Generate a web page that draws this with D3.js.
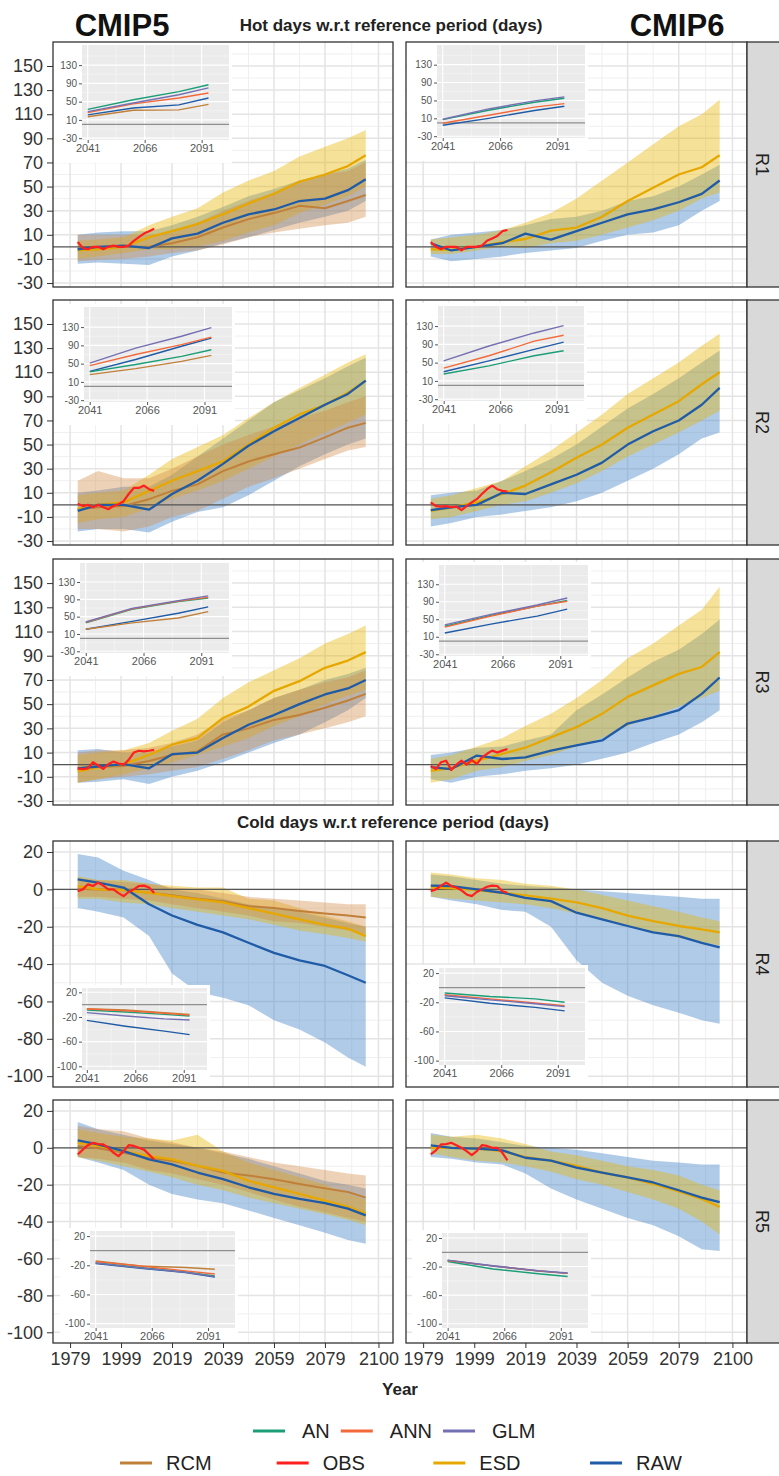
<!DOCTYPE html>
<html>
<head>
<meta charset="UTF-8">
<script src="https://d3js.org/d3.v7.min.js"></script>
<style>
  body { margin: 0; background: #fff; }
  svg text { font-family: "Liberation Sans", Arial, Helvetica, sans-serif; }
</style>
</head>
<body>
<svg id="chart" width="779" height="1476"></svg>
<script>
// ---------------- data ----------------
var YEARS = [1982, 1990, 2000, 2010, 2019, 2029, 2039, 2049, 2059, 2069, 2079, 2088, 2095];
var OBS_YEARS = [1982, 1984, 1986, 1988, 1990, 1992, 1994, 1996, 1998, 2000, 2002, 2004, 2006, 2008, 2010, 2012];
var INSET_YEARS = [2041, 2061, 2081, 2094];

var X_TICKS = [1979, 1999, 2019, 2039, 2059, 2079, 2100];
var HOT_TICKS = [-30, -10, 10, 30, 50, 70, 90, 110, 130, 150];
var COLD_TICKS = [-100, -80, -60, -40, -20, 0, 20];
var INSET_X_TICKS = [2041, 2066, 2091];
var INSET_HOT_TICKS = [-30, 10, 50, 90, 130];
var INSET_COLD_TICKS = [-100, -60, -20, 20];
var ROW_LABELS = ["R1", "R2", "R3", "R4", "R5"];
var LEGEND_ROW1 = ["AN", "ANN", "GLM"];
var LEGEND_ROW2 = ["RCM", "OBS", "ESD", "RAW"];

// CMIP5 R1
var c5r1_raw   = [-2, 0, 1, -1, 7, 11, 20, 27, 31, 38, 40, 47, 56];
var c5r1_rawLo = [-14, -13, -14, -15, -8, -3, 3, 8, 14, 20, 25, 30, 38];
var c5r1_rawHi = [10, 12, 13, 13, 18, 25, 33, 42, 48, 55, 60, 65, 72];
var c5r1_esd   = [-3, -2, 0, 8, 13, 19, 27, 36, 44, 54, 60, 67, 76];
var c5r1_esdLo = [-10, -8, -5, -2, -2, 0, 5, 12, 18, 28, 35, 42, 50];
var c5r1_esdHi = [5, 6, 8, 18, 25, 32, 45, 55, 63, 75, 83, 90, 97];
var c5r1_rcm   = [-2, -1, 0, 0, 3, 8, 16, 23, 28, 34, 32, 38, 43];
var c5r1_rcmLo = [-12, -11, -10, -8, -5, -3, 2, 8, 12, 15, 18, 20, 25];
var c5r1_rcmHi = [10, 10, 10, 10, 12, 20, 30, 38, 45, 55, 60, 63, 70];
var c5r1_obs   = [4, -1, -2, 0, 0, -2, 0, 1, 0, 0, 1, 5, 8, 11, 13, 15];
var c5r1_inAN  = [33, 54, 72, 87];
var c5r1_inANN = [26, 45, 58, 69];
var c5r1_inGLM = [28, 47, 65, 80];
var c5r1_inRCM = [17, 31, 32, 44];
var c5r1_inRAW = [21, 36, 43, 58];

// CMIP6 R1
var c6r1_raw   = [3, -3, 0, 3, 11, 6, 13, 20, 27, 31, 37, 44, 55];
var c6r1_rawLo = [-8, -12, -10, -8, -5, -3, -1, 5, 10, 12, 18, 30, 38];
var c6r1_rawHi = [6, 10, 12, 14, 18, 23, 25, 30, 38, 42, 50, 60, 68];
var c6r1_esd   = [-2, -2.5, 0, 4, 6.5, 13.5, 16, 25, 38, 49, 60, 66, 76];
var c6r1_esdLo = [-6, -6, -3, 0, -1, 3, 5, 10, 16, 22, 30, 40, 45];
var c6r1_esdHi = [6, 8, 10, 14, 20, 28, 40, 55, 70, 85, 100, 110, 122];
var c6r1_obs   = [4, 0, -2, 0, 0, 0, -3, 0, 0, 0, 1, 5, 7, 9, 13, 14];
var c6r1_inAN  = [7, 28, 46, 55];
var c6r1_inANN = [-1, 17, 35, 43];
var c6r1_inGLM = [8, 31, 49, 58];
var c6r1_inRAW = [-5.5, 10, 27.6, 37];

// CMIP5 R2
var c5r2_raw   = [-5, 0, 0, -4, 9, 20, 34, 49, 61, 72, 83, 92, 103];
var c5r2_rawLo = [-22, -20, -20, -23, -14, -6, -2, 8, 20, 32, 42, 50, 55];
var c5r2_rawHi = [10, 12, 15, 15, 25, 40, 55, 70, 85, 95, 105, 115, 122];
var c5r2_esd   = [-3.6, 0, 2, 11.6, 20, 28, 36, 50, 64, 75, 83, 93, 103];
var c5r2_esdLo = [-15, -12, -10, -3, 5, 12, 20, 30, 40, 50, 60, 68, 75];
var c5r2_esdHi = [8, 10, 12, 25, 38, 48, 58, 72, 85, 97, 108, 118, 125];
var c5r2_rcm   = [-3.6, -2, -1, 4.7, 11.6, 17, 28, 36, 42, 47.5, 56, 64, 68];
var c5r2_rcmLo = [-20, -20, -22, -18, -10, -5, 5, 15, 22, 30, 38, 45, 48];
var c5r2_rcmHi = [20, 28, 22, 22, 30, 40, 50, 58, 65, 72, 78, 85, 90];
var c5r2_obs   = [1, -1, 0, -2, 0, -2, -3.6, -1, 0.5, 3, 9, 14, 14, 16, 13, 11.6];
var c5r2_inAN  = [32, 48, 66, 80.5];
var c5r2_inANN = [45.6, 70, 91.5, 108];
var c5r2_inGLM = [51, 84, 110, 129];
var c5r2_inRCM = [26, 39, 55, 68];
var c5r2_inRAW = [33, 59, 88, 106];

// CMIP6 R2
var c6r2_raw   = [-4.4, -2, 0, 10, 9, 17, 25, 35, 50, 61, 70, 83, 97];
var c6r2_rawLo = [-18, -15, -10, -8, -5, -2, 3, 10, 20, 30, 42, 55, 60];
var c6r2_rawHi = [8, 10, 12, 20, 28, 38, 50, 65, 80, 92, 105, 118, 128];
var c6r2_esd   = [-5, -2, 2, 9, 16, 27, 39, 50, 64, 75, 86, 100, 110];
var c6r2_esdLo = [-12, -10, -5, 0, 3, 10, 18, 28, 40, 50, 60, 70, 78];
var c6r2_esdHi = [5, 8, 14, 20, 32, 45, 60, 75, 92, 105, 118, 132, 142];
var c6r2_obs   = [2, -1, -1.4, -1, -2, -1.5, -4.4, -1, 2, 4.7, 9, 13, 16, 13, 11.6, 11];
var c6r2_inAN  = [25, 43, 65, 76];
var c6r2_inANN = [38, 65, 97, 110];
var c6r2_inGLM = [54, 86.5, 115, 131];
var c6r2_inRAW = [30, 54, 79, 95];

// CMIP5 R3
var c5r3_raw   = [-3, -1.5, 0.4, -3, 8.7, 10, 22, 33, 41, 50, 58, 63, 70];
var c5r3_rawLo = [-15, -14, -12, -16, -10, -5, 2, 10, 18, 25, 35, 45, 55];
var c5r3_rawHi = [12, 13, 10, 10, 15, 20, 35, 45, 55, 62, 70, 75, 80];
var c5r3_esd   = [-5.6, -2.3, 0.4, 8, 16.5, 22, 38.6, 48, 61, 69, 80, 86, 93];
var c5r3_esdLo = [-15, -12, -8, -3, 2, 8, 15, 22, 32, 40, 50, 57, 62];
var c5r3_esdHi = [8, 10, 12, 18, 28, 38, 55, 68, 78, 88, 100, 108, 115];
var c5r3_rcm   = [-3, -2, -1, 3, 8, 11, 25, 30, 37, 41, 47, 53, 58.5];
var c5r3_rcmLo = [-15, -12, -10, -8, -5, -2, 5, 12, 20, 25, 30, 35, 40];
var c5r3_rcmHi = [10, 12, 12, 14, 18, 25, 38, 45, 55, 62, 68, 72, 78];
var c5r3_obs   = [-3, -3.7, -3, 2, -0.7, -3.5, 0.4, 2.6, 1, 0, 4, 10, 11.5, 11, 11.5, 12.3];
var c5r3_inAN  = [36, 67, 85, 93];
var c5r3_inANN = [37, 68, 86, 94.5];
var c5r3_inGLM = [38, 69, 87, 98];
var c5r3_inRCM = [21, 35.7, 47, 61.5];
var c5r3_inRAW = [21, 39, 58, 72.5];

// CMIP6 R3
var c6r3_raw   = [-2, -3.6, 7.5, 4.7, 6, 11.6, 16, 20, 34, 39, 45, 58.5, 72];
var c6r3_rawLo = [-12, -15, -10, -8, -5, -3, 0, 5, 10, 18, 25, 35, 45];
var c6r3_rawHi = [8, 10, 14, 15, 20, 25, 45, 58, 72, 85, 95, 108, 120];
var c6r3_esd   = [-5, -2.8, 3.3, 9, 14, 22.6, 31, 42, 56, 65.5, 75, 80.7, 93];
var c6r3_esdLo = [-15, -12, -5, -2, 3, 8, 15, 22, 32, 40, 48, 55, 61];
var c6r3_esdHi = [5, 8, 15, 22, 32, 42, 55, 70, 88, 100, 115, 128, 147];
var c6r3_obs   = [-1, -3.6, 2, 3.3, -4.4, 0, 3.3, 0, 4, 0.5, 6, 9, 11.6, 10, 11.6, 13];
var c6r3_inAN  = [34, 59, 80, 93];
var c6r3_inANN = [32, 57, 80, 91];
var c6r3_inGLM = [37, 61, 82.6, 98.5];
var c6r3_inRAW = [18.7, 39, 57, 73];

// CMIP5 R4
var c5r4_raw   = [5.4, 3.6, 1, -8, -14, -19, -23, -28.6, -34, -38, -41, -46, -50];
var c5r4_rawLo = [-10, -12, -15, -25, -45, -55, -58, -62, -70, -75, -82, -90, -95];
var c5r4_rawHi = [19, 17, 10, 5, 0, -2, -5, -8, -10, -12, -15, -18, -20];
var c5r4_esd   = [1.8, 0, -0.4, -1.8, -3.6, -5.4, -7, -10, -13, -16, -19, -21, -25];
var c5r4_esdLo = [-5, -5, -7, -8, -10, -12, -14, -16, -19, -22, -24, -26, -28];
var c5r4_esdHi = [7, 5, 5, 3, 2, 1, 1, -5, -6, -10, -14, -17, -20];
var c5r4_rcm   = [0.3, 0, -0.4, -1.8, -3.2, -5, -6.3, -9, -10, -11.6, -12.9, -14, -15];
var c5r4_rcmLo = [-4, -4, -5, -6, -8, -10, -12, -14, -17, -18, -20, -22, -24];
var c5r4_rcmHi = [6, 5, 4, 3, 1, 0, -2, -4, -5, -6, -7, -8, -8];
var c5r4_obs   = [-1, 0, 2.7, 1.8, 3.6, 2, 0, 0, -2, -3.6, -1.4, 0, 1.8, 2, 1, -2];
var c5r4_inAN  = [-8.6, -12, -15.7, -18.5];
var c5r4_inANN = [-7, -10, -14, -17];
var c5r4_inGLM = [-13, -18.5, -23, -25];
var c5r4_inRCM = [-6.4, -8.6, -13, -15.7];
var c5r4_inRAW = [-25.6, -35, -43, -48.7];

// CMIP6 R4
var c6r4_raw   = [2, 1.8, 0, -1.8, -4.5, -6.3, -12.5, -16, -19.6, -23, -25, -28.6, -31];
var c6r4_rawLo = [-4, -6, -8, -11, -12, -20, -38, -50, -57, -62, -66, -70, -72];
var c6r4_rawHi = [8, 7, 5, 3, 2, 1, 0, -1, -2, -3, -4, -5, -5];
var c6r4_esd   = [1, 0.5, -0.4, -1.8, -3.2, -5, -7, -10, -14, -17, -19.6, -21.4, -23];
var c6r4_esdLo = [-4, -5, -6, -7, -8, -10, -13, -16, -20, -23, -26, -28, -30];
var c6r4_esdHi = [9, 8, 6, 5, 3, 2, 0, -3, -6, -9, -12, -15, -17];
var c6r4_obs   = [-1, 0, 2, 3.6, 1.8, 1, -0.5, -2.7, -3.6, -1.4, 0, 1.4, 2, 1.8, -1, -1.8];
var c6r4_inAN  = [-7.3, -12, -15.3, -20];
var c6r4_inANN = [-9.6, -15.3, -21, -24.7];
var c6r4_inGLM = [-11, -16.7, -22, -26];
var c6r4_inRAW = [-14, -21.4, -27, -31.8];

// CMIP5 R5
var c5r5_raw   = [4, 1.8, -1.8, -6.3, -9, -13.4, -17, -21.4, -25, -27.7, -30, -33, -36.6];
var c5r5_rawLo = [-5, -8, -12, -20, -25, -28, -30, -34, -38, -42, -46, -50, -52];
var c5r5_rawHi = [14, 10, 7, 4, 2, 0, -3, -6, -10, -14, -18, -20, -22];
var c5r5_esd   = [2.7, 1, -1.8, -4.5, -6.3, -9.8, -12.5, -17.9, -21.4, -25, -28.6, -32, -35.7];
var c5r5_esdLo = [-5, -7, -10, -13, -16, -20, -23, -27, -30, -33, -36, -39, -42];
var c5r5_esdHi = [10, 8, 6, 5, 4, 7, -2, -8, -12, -16, -20, -25, -28];
var c5r5_rcm   = [1, -0.3, -2.7, -5.4, -7, -9.8, -13.4, -15, -17, -19.6, -22, -24, -27];
var c5r5_rcmLo = [-5, -6, -8, -12, -14, -17, -20, -24, -28, -32, -35, -38, -40];
var c5r5_rcmHi = [12, 10, 9, 5, 3, 0, -2, -5, -8, -10, -12, -14, -15];
var c5r5_obs   = [-3.6, -1, 1.4, 2.7, 2, 1.8, 0, -2.7, -4.5, -1.8, 1.4, 1, 0, -1, -3.6, -6.3];
var c5r5_inAN  = [-16.4, -23, -29, -34.5];
var c5r5_inANN = [-15, -21, -27.7, -32];
var c5r5_inGLM = [-17, -23.5, -29.5, -35.5];
var c5r5_inRCM = [-14, -21, -23, -25.5];
var c5r5_inRAW = [-17.7, -24, -30, -36];

// CMIP6 R5
var c6r5_raw   = [1.3, 0, -0.4, -1.4, -5.4, -7, -10.7, -13.4, -16, -18.8, -23, -27, -29.5];
var c6r5_rawLo = [-5, -6, -8, -9, -14, -22, -28, -33, -38, -42, -48, -55, -56];
var c6r5_rawHi = [8, 6, 5, 3, 1, 0, -1, -3, -5, -7, -8, -9, -9];
var c6r5_esd   = [0, 0, -0.4, -1.8, -5, -7, -9.8, -13.4, -16, -19.6, -23.6, -27.7, -32];
var c6r5_esdLo = [-3, -5, -7, -8, -10, -13, -17, -20, -24, -28, -33, -40, -47];
var c6r5_esdHi = [7, 6, 7, 5, 2, -2, -4, -7, -10, -12, -15, -20, -23];
var c6r5_obs   = [-3.6, -1.4, 1.8, 2, 2.7, 1.4, 0, -1.8, -4, -1.8, 1.4, 1, 0, 0, -2.7, -6.8];
var c6r5_inAN  = [-12.9, -23.4, -30, -34];
var c6r5_inANN = [-11.5, -19, -26, -29.5];
var c6r5_inGLM = [-11, -18.8, -25.7, -29];
var c6r5_inRAW = [-11.5, -19.3, -26.2, -29.5];

// ---------------- layout ----------------
var COLORS = {AN: "#1b9e77", ANN: "#f4693a", GLM: "#7570b3", RCM: "#c0803a",
              OBS: "#ff1f1f", ESD: "#e6a800", RAW: "#1f5ba6"};
var COL_X = [[53, 393], [406, 747]];
var ROW_TOP = [42, 300, 559, 841, 1100];
var ROW_H = [245, 245, 246, 246, 243];
// inset grey box (dx, dy, w, h) from panel corner
var INSET_BOX = [
  [[29, 3, 147, 95], [31, 3, 148, 93]],
  [[31, 7, 148, 95], [32, 6, 146, 95]],
  [[27, 4, 149, 90], [33, 6, 149, 91]],
  [[29, 147, 125, 82], [33, 127, 146, 97]],
  [[37, 131, 145, 97], [36, 133, 146, 95]]
];

function pack(raw, rawLo, rawHi, esd, esdLo, esdHi, rcm, rcmLo, rcmHi, obs, inset) {
  return {raw: raw, rawLo: rawLo, rawHi: rawHi, esd: esd, esdLo: esdLo, esdHi: esdHi,
          rcm: rcm, rcmLo: rcmLo, rcmHi: rcmHi, obs: obs, inset: inset};
}

var panels = [
  [pack(c5r1_raw, c5r1_rawLo, c5r1_rawHi, c5r1_esd, c5r1_esdLo, c5r1_esdHi, c5r1_rcm, c5r1_rcmLo, c5r1_rcmHi, c5r1_obs,
        {RAW: c5r1_inRAW, RCM: c5r1_inRCM, AN: c5r1_inAN, ANN: c5r1_inANN, GLM: c5r1_inGLM}),
   pack(c6r1_raw, c6r1_rawLo, c6r1_rawHi, c6r1_esd, c6r1_esdLo, c6r1_esdHi, null, null, null, c6r1_obs,
        {RAW: c6r1_inRAW, AN: c6r1_inAN, ANN: c6r1_inANN, GLM: c6r1_inGLM})],
  [pack(c5r2_raw, c5r2_rawLo, c5r2_rawHi, c5r2_esd, c5r2_esdLo, c5r2_esdHi, c5r2_rcm, c5r2_rcmLo, c5r2_rcmHi, c5r2_obs,
        {RAW: c5r2_inRAW, RCM: c5r2_inRCM, AN: c5r2_inAN, ANN: c5r2_inANN, GLM: c5r2_inGLM}),
   pack(c6r2_raw, c6r2_rawLo, c6r2_rawHi, c6r2_esd, c6r2_esdLo, c6r2_esdHi, null, null, null, c6r2_obs,
        {RAW: c6r2_inRAW, AN: c6r2_inAN, ANN: c6r2_inANN, GLM: c6r2_inGLM})],
  [pack(c5r3_raw, c5r3_rawLo, c5r3_rawHi, c5r3_esd, c5r3_esdLo, c5r3_esdHi, c5r3_rcm, c5r3_rcmLo, c5r3_rcmHi, c5r3_obs,
        {RAW: c5r3_inRAW, RCM: c5r3_inRCM, AN: c5r3_inAN, ANN: c5r3_inANN, GLM: c5r3_inGLM}),
   pack(c6r3_raw, c6r3_rawLo, c6r3_rawHi, c6r3_esd, c6r3_esdLo, c6r3_esdHi, null, null, null, c6r3_obs,
        {RAW: c6r3_inRAW, AN: c6r3_inAN, ANN: c6r3_inANN, GLM: c6r3_inGLM})],
  [pack(c5r4_raw, c5r4_rawLo, c5r4_rawHi, c5r4_esd, c5r4_esdLo, c5r4_esdHi, c5r4_rcm, c5r4_rcmLo, c5r4_rcmHi, c5r4_obs,
        {RAW: c5r4_inRAW, RCM: c5r4_inRCM, AN: c5r4_inAN, ANN: c5r4_inANN, GLM: c5r4_inGLM}),
   pack(c6r4_raw, c6r4_rawLo, c6r4_rawHi, c6r4_esd, c6r4_esdLo, c6r4_esdHi, null, null, null, c6r4_obs,
        {RAW: c6r4_inRAW, AN: c6r4_inAN, ANN: c6r4_inANN, GLM: c6r4_inGLM})],
  [pack(c5r5_raw, c5r5_rawLo, c5r5_rawHi, c5r5_esd, c5r5_esdLo, c5r5_esdHi, c5r5_rcm, c5r5_rcmLo, c5r5_rcmHi, c5r5_obs,
        {RAW: c5r5_inRAW, RCM: c5r5_inRCM, AN: c5r5_inAN, ANN: c5r5_inANN, GLM: c5r5_inGLM}),
   pack(c6r5_raw, c6r5_rawLo, c6r5_rawHi, c6r5_esd, c6r5_esdLo, c6r5_esdHi, null, null, null, c6r5_obs,
        {RAW: c6r5_inRAW, AN: c6r5_inAN, ANN: c6r5_inANN, GLM: c6r5_inGLM})]
];

var svg = d3.select("#chart");
var fmt = function(d) { return String(d); };

function styleAxis(g, size, color) {
  g.select(".domain").remove();
  g.selectAll(".tick line").attr("stroke", color).attr("stroke-width", 1);
  g.selectAll(".tick text").attr("fill", color).style("font-size", size + "px")
    .style("font-family", '"Liberation Sans", Arial, sans-serif');
}

// ---------------- titles ----------------
svg.append("text").attr("x", 122).attr("y", 36).attr("text-anchor", "middle")
  .style("font-size", "31px").style("font-weight", "bold").attr("fill", "#111").text("CMIP5");
svg.append("text").attr("x", 677).attr("y", 36).attr("text-anchor", "middle")
  .style("font-size", "31px").style("font-weight", "bold").attr("fill", "#111").text("CMIP6");
svg.append("text").attr("x", 391).attr("y", 31).attr("text-anchor", "middle")
  .style("font-size", "17px").style("font-weight", "bold").attr("fill", "#222")
  .text("Hot days w.r.t reference period (days)");
svg.append("text").attr("x", 393).attr("y", 828).attr("text-anchor", "middle")
  .style("font-size", "17px").style("font-weight", "bold").attr("fill", "#222")
  .text("Cold days w.r.t reference period (days)");

// ---------------- panels ----------------
panels.forEach(function(rowPanels, r) {
  var hot = r < 3;
  var top = ROW_TOP[r], h = ROW_H[r];

  rowPanels.forEach(function(p, c) {
    var x0 = COL_X[c][0], x1 = COL_X[c][1];
    var x = d3.scaleLinear().domain([1972.3, 2105.7]).range([x0, x1]);
    var y = d3.scaleLinear().domain(hot ? [-33.3, 169.9] : [-105.8, 25.9]).range([top + h, top]);
    var g = svg.append("g");
    var clipId = "clip-" + r + "-" + c;
    svg.append("clipPath").attr("id", clipId).append("rect")
      .attr("x", x0).attr("y", top).attr("width", x1 - x0).attr("height", h);
    var plot = g.append("g").attr("clip-path", "url(#" + clipId + ")");

    plot.append("rect").attr("x", x0).attr("y", top).attr("width", x1 - x0).attr("height", h).attr("fill", "#fff");

    // grid
    var majorY = hot ? HOT_TICKS : COLD_TICKS;
    var minorY = majorY.map(function(v) { return v + 10; }).concat([majorY[0] - 10]);
    var minorX = X_TICKS.slice(0, -1).map(function(v, i) { return (v + X_TICKS[i + 1]) / 2; }).concat([1969, 2110]);
    plot.selectAll(".gminy").data(minorY).enter().append("line")
      .attr("x1", x0).attr("x2", x1).attr("y1", y).attr("y2", y)
      .attr("stroke", "#f0f0f0").attr("stroke-width", 1);
    plot.selectAll(".gminx").data(minorX).enter().append("line")
      .attr("y1", top).attr("y2", top + h).attr("x1", x).attr("x2", x)
      .attr("stroke", "#f0f0f0").attr("stroke-width", 1);
    plot.selectAll(".gmaxy").data(majorY).enter().append("line")
      .attr("x1", x0).attr("x2", x1).attr("y1", y).attr("y2", y)
      .attr("stroke", "#e4e4e4").attr("stroke-width", 1.5);
    plot.selectAll(".gmaxx").data(X_TICKS).enter().append("line")
      .attr("y1", top).attr("y2", top + h).attr("x1", x).attr("x2", x)
      .attr("stroke", "#e4e4e4").attr("stroke-width", 1.5);

    // ribbons
    function band(lo, hi, fill, op) {
      var area = d3.area().x(function(d, i) { return x(YEARS[i]); })
        .y0(function(d, i) { return y(lo[i]); }).y1(function(d, i) { return y(hi[i]); });
      plot.append("path").datum(lo).attr("d", area).attr("fill", fill).attr("fill-opacity", op);
    }
    band(p.rawLo, p.rawHi, "#4f8ccc", 0.45);
    band(p.esdLo, p.esdHi, "#e8b400", 0.4);
    if (p.rcm) band(p.rcmLo, p.rcmHi, "#d08a45", 0.38);

    // zero line
    plot.append("line").attr("x1", x0).attr("x2", x1).attr("y1", y(0)).attr("y2", y(0))
      .attr("stroke", "#555").attr("stroke-width", 1.3);

    function series(vals, yrs, color, w) {
      var line = d3.line().x(function(d, i) { return x(yrs[i]); }).y(function(d) { return y(d); });
      plot.append("path").datum(vals).attr("d", line).attr("fill", "none")
        .attr("stroke", color).attr("stroke-width", w).attr("stroke-linejoin", "round");
    }
    if (p.rcm) series(p.rcm, YEARS, COLORS.RCM, 2);
    series(p.esd, YEARS, COLORS.ESD, 2.3);
    series(p.raw, YEARS, COLORS.RAW, 2.3);
    series(p.obs, OBS_YEARS, COLORS.OBS, 2.2);

    // inset
    var b = INSET_BOX[r][c];
    var gx = x0 + b[0], gy = top + b[1], gw = b[2], gh = b[3];
    var inset = plot.append("g");
    inset.append("rect").attr("x", gx - 30).attr("y", gy - 3).attr("width", gw + 33).attr("height", gh + 26)
      .attr("fill", "#fff");
    var ix = d3.scaleLinear().domain([2038.5, 2103]).range([gx, gx + gw]);
    var iy = d3.scaleLinear().domain(hot ? [-34, 174] : [-106, 27]).range([gy + gh, gy]);
    inset.append("rect").attr("x", gx).attr("y", gy).attr("width", gw).attr("height", gh).attr("fill", "#ebebeb");
    var iTicks = hot ? INSET_HOT_TICKS : INSET_COLD_TICKS;
    var iMinor = iTicks.map(function(v) { return v + 20; }).filter(function(v) { return v > iy.domain()[0] && v < iy.domain()[1]; });
    inset.selectAll(".imy").data(iMinor).enter().append("line")
      .attr("x1", gx).attr("x2", gx + gw).attr("y1", iy).attr("y2", iy).attr("stroke", "#f7f7f7").attr("stroke-width", 0.6);
    inset.selectAll(".imx").data([2053.5, 2078.5]).enter().append("line")
      .attr("y1", gy).attr("y2", gy + gh).attr("x1", ix).attr("x2", ix).attr("stroke", "#f7f7f7").attr("stroke-width", 0.6);
    inset.selectAll(".iMy").data(iTicks).enter().append("line")
      .attr("x1", gx).attr("x2", gx + gw).attr("y1", iy).attr("y2", iy).attr("stroke", "#fff").attr("stroke-width", 1.1);
    inset.selectAll(".iMx").data(INSET_X_TICKS).enter().append("line")
      .attr("y1", gy).attr("y2", gy + gh).attr("x1", ix).attr("x2", ix).attr("stroke", "#fff").attr("stroke-width", 1.1);
    inset.append("line").attr("x1", gx).attr("x2", gx + gw).attr("y1", iy(0)).attr("y2", iy(0))
      .attr("stroke", "#8f8f8f").attr("stroke-width", 1.3);
    ["RAW", "RCM", "AN", "ANN", "GLM"].forEach(function(k) {
      if (!p.inset[k]) return;
      var il = d3.line().x(function(d, i) { return ix(INSET_YEARS[i]); }).y(function(d) { return iy(d); });
      inset.append("path").datum(p.inset[k]).attr("d", il).attr("fill", "none")
        .attr("stroke", COLORS[k]).attr("stroke-width", 1.4);
    });
    var iya = inset.append("g").attr("transform", "translate(" + gx + ",0)")
      .call(d3.axisLeft(iy).tickValues(iTicks).tickSize(3).tickPadding(2).tickFormat(fmt));
    styleAxis(iya, 10, "#555");
    var ixa = inset.append("g").attr("transform", "translate(0," + (gy + gh) + ")")
      .call(d3.axisBottom(ix).tickValues(INSET_X_TICKS).tickSize(3).tickPadding(1).tickFormat(fmt));
    styleAxis(ixa, 11, "#555");

    // border
    g.append("rect").attr("x", x0).attr("y", top).attr("width", x1 - x0).attr("height", h)
      .attr("fill", "none").attr("stroke", "#333").attr("stroke-width", 1.3);

    // axes
    if (c === 0) {
      var ya = g.append("g").attr("transform", "translate(" + x0 + ",0)")
        .call(d3.axisLeft(y).tickValues(majorY).tickSize(6).tickPadding(4).tickFormat(fmt));
      styleAxis(ya, 18, "#333");
    }
    if (r === 4) {
      var xa = g.append("g").attr("transform", "translate(0," + (top + h) + ")")
        .call(d3.axisBottom(x).tickValues(X_TICKS).tickSize(5).tickPadding(4).tickFormat(fmt));
      styleAxis(xa, 18, "#333");
    }
  });

  // strip
  svg.append("rect").attr("x", 747).attr("y", top).attr("width", 40).attr("height", h)
    .attr("fill", "#d9d9d9").attr("stroke", "#333").attr("stroke-width", 1.3);
  svg.append("text").attr("transform", "translate(756," + (top + h / 2) + ") rotate(90)")
    .attr("text-anchor", "middle").style("font-size", "18px").attr("fill", "#222")
    .text(ROW_LABELS[r]);
});

// ---------------- axis title ----------------
svg.append("text").attr("x", 400).attr("y", 1395).attr("text-anchor", "middle")
  .style("font-size", "17px").style("font-weight", "bold").attr("fill", "#222").text("Year");

// ---------------- legend ----------------
var leg = svg.append("g");
var lx = 253;
LEGEND_ROW1.forEach(function(k) {
  leg.append("line").attr("x1", lx).attr("x2", lx + 32).attr("y1", 1431).attr("y2", 1431)
    .attr("stroke", COLORS[k]).attr("stroke-width", 3);
  var t = leg.append("text").attr("x", lx + 49).attr("y", 1438).style("font-size", "20px")
    .attr("fill", "#222").text(k);
  lx = lx + 49 + t.node().getComputedTextLength() + 11;
});
var legX2 = d3.scalePoint().domain(LEGEND_ROW2).range([120, 590]);
LEGEND_ROW2.forEach(function(k) {
  var kx = legX2(k);
  leg.append("line").attr("x1", kx).attr("x2", kx + 32).attr("y1", 1463).attr("y2", 1463)
    .attr("stroke", COLORS[k]).attr("stroke-width", 3);
  leg.append("text").attr("x", kx + 46).attr("y", 1470).style("font-size", "20px")
    .attr("fill", "#222").text(k);
});
</script>
</body>
</html>
